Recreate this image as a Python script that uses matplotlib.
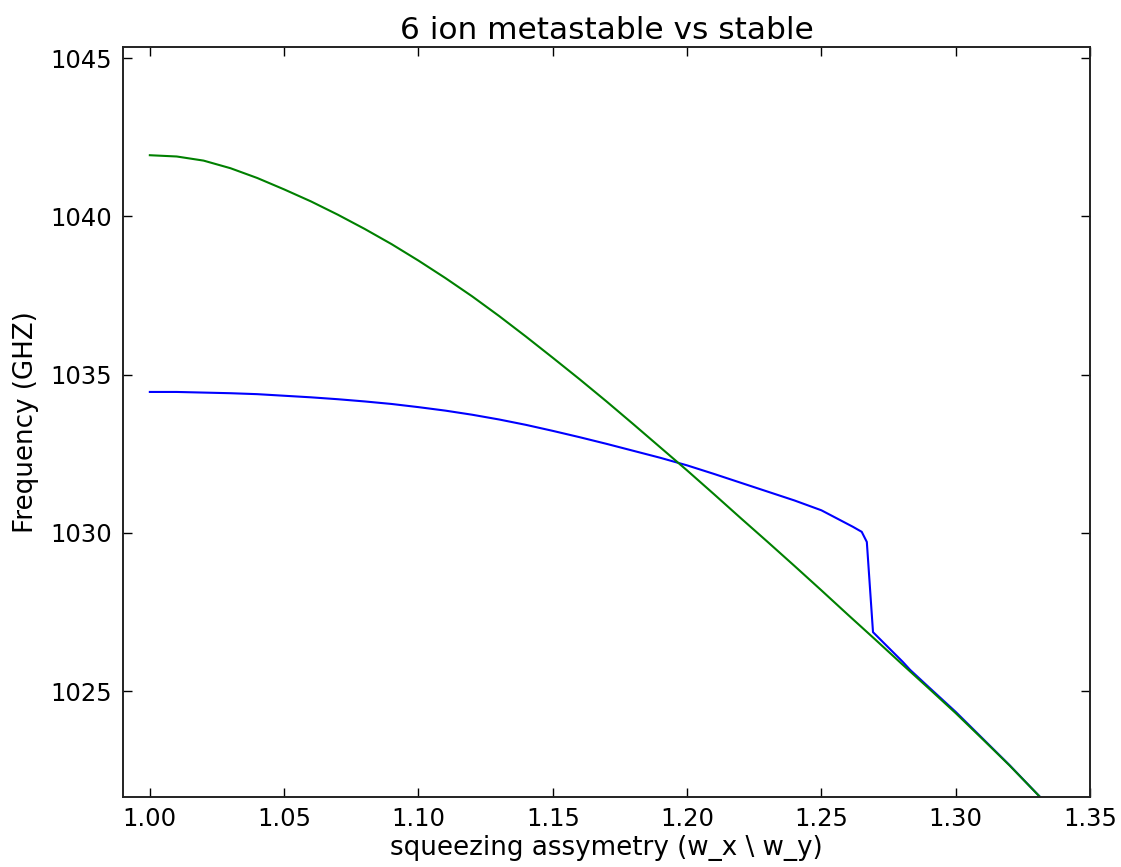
import matplotlib
matplotlib.use("Agg")
import matplotlib.pyplot as plt

# stable configuration (green)
x_green = [1.00, 1.01, 1.02, 1.03, 1.04, 1.05, 1.06, 1.07, 1.08, 1.09,
           1.10, 1.11, 1.12, 1.13, 1.14, 1.15, 1.16, 1.17, 1.18, 1.19,
           1.20, 1.21, 1.22, 1.23, 1.24, 1.25, 1.26, 1.27, 1.28, 1.29,
           1.30, 1.31, 1.32, 1.3313]
y_green = [1041.93, 1041.89, 1041.76, 1041.52, 1041.21, 1040.85, 1040.47,
           1040.05, 1039.60, 1039.12, 1038.60, 1038.05, 1037.47, 1036.85,
           1036.20, 1035.53, 1034.85, 1034.15, 1033.43, 1032.70, 1031.97,
           1031.22, 1030.46, 1029.71, 1028.95, 1028.18, 1027.40, 1026.63,
           1025.85, 1025.08, 1024.30, 1023.48, 1022.65, 1021.66]

# metastable configuration (blue)
x_blue = [1.00, 1.01, 1.02, 1.03, 1.04, 1.05, 1.06, 1.07, 1.08, 1.09,
          1.10, 1.11, 1.12, 1.13, 1.14, 1.15, 1.16, 1.17, 1.18, 1.19,
          1.20, 1.21, 1.22, 1.23, 1.24, 1.25, 1.2617, 1.265, 1.2669,
          1.2692, 1.2803, 1.283, 1.29, 1.30, 1.31, 1.32, 1.3313]
y_blue = [1034.45, 1034.45, 1034.43, 1034.41, 1034.38, 1034.33, 1034.28,
          1034.22, 1034.15, 1034.07, 1033.97, 1033.86, 1033.73, 1033.58,
          1033.41, 1033.22, 1033.02, 1032.81, 1032.59, 1032.37, 1032.13,
          1031.86, 1031.58, 1031.30, 1031.02, 1030.71, 1030.19, 1030.03,
          1029.71, 1026.86, 1025.92, 1025.67, 1025.12, 1024.34, 1023.50,
          1022.66, 1021.66]

x_ticks = [1.00, 1.05, 1.10, 1.15, 1.20, 1.25, 1.30, 1.35]
y_ticks = [1025, 1030, 1035, 1040, 1045]

title = "6 ion metastable vs stable"
xlabel = "squeezing assymetry (w_x \\ w_y)"
ylabel = "Frequency (GHZ)"

fig = plt.figure(figsize=(11.21, 8.67), dpi=100)
ax = fig.add_axes([0.1097, 0.0807, 0.8627, 0.8651])

ax.plot(x_blue, y_blue, color=(0, 0, 1), lw=1.5)
ax.plot(x_green, y_green, color=(0, 0.5, 0), lw=1.5)

ax.set_xlim(0.99, 1.35)
ax.set_ylim(1021.65, 1045.35)
ax.set_xticks(x_ticks)
ax.set_xticklabels([f"{v:.2f}" for v in x_ticks])
ax.set_yticks(y_ticks)
ax.set_yticklabels([str(v) for v in y_ticks])

ax.tick_params(direction="in", length=6.5, width=1.0, labelsize=17.5,
               top=True, right=True, colors="black")
ax.tick_params(axis="x", pad=7)
ax.tick_params(axis="y", pad=8)
for s in ax.spines.values():
    s.set_linewidth(1.4)
    s.set_color("#222222")

ax.set_title(title, fontsize=22.5, pad=6)
ax.set_xlabel(xlabel, fontsize=18.8, labelpad=3)
ax.set_ylabel(ylabel, fontsize=18.8, labelpad=8)

fig.savefig("out.png", dpi=100)
